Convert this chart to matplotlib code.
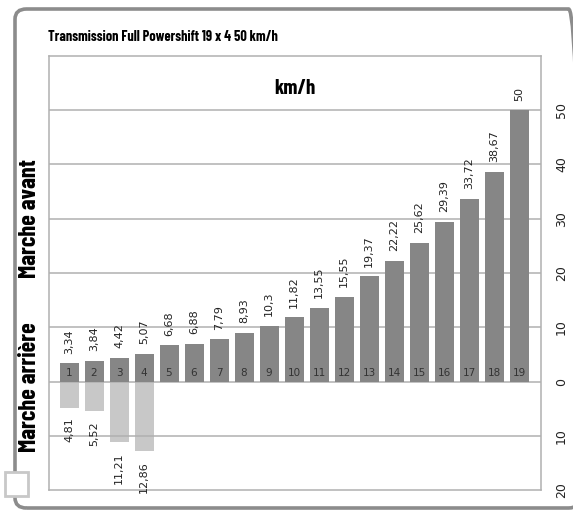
import numpy as np
import matplotlib
matplotlib.use("Agg")
import matplotlib.pyplot as plt
from matplotlib.patches import FancyBboxPatch, Rectangle

# data
gears = list(range(1, 20))
forward = [3.34, 3.84, 4.42, 5.07, 6.68, 6.88, 7.79, 8.93, 10.3, 11.82,
           13.55, 15.55, 19.37, 22.22, 25.62, 29.39, 33.72, 38.67, 50]
rev_gears = [1, 2, 3, 4]
reverse = [4.81, 5.52, 11.21, 12.86]
yticks = [-20, -10, 0, 10, 20, 30, 40, 50]

title = "Transmission Full Powershift 19 x 4 50 km/h"
narrow = ["Barlow Condensed", "DejaVu Sans"]


def fmt(v):
    s = ("%.2f" % v).rstrip("0").rstrip(".")
    return s.replace(".", ",")


W, H = 573, 511
fig = plt.figure(figsize=(W / 100, H / 100), dpi=100)

# outer rounded frame
frame = FancyBboxPatch((15 / W, 3 / H), 565 / W, 499 / H,
                       boxstyle="round,pad=0,rounding_size=0.02",
                       transform=fig.transFigure, fill=False,
                       edgecolor="#8c8c8c", linewidth=2.6)
fig.patches.append(frame)

ax = fig.add_axes([49 / W, 1 - 490 / H, 492 / W, 434 / H])
ax.set_xlim(0.2, 19.88)
ax.set_ylim(-20, 60)

for y in [-10, 0, 10, 20, 30, 40, 50]:
    ax.axhline(y, color="#b0b0b0", lw=1.1, zorder=2)

ax.bar(rev_gears, [-v for v in reverse], width=0.76, color="#c8c8c8", zorder=1)
ax.bar(gears, forward, width=0.76, color="#868686", zorder=3)

for g, v in zip(gears, forward):
    ax.annotate(fmt(v), (g, v), xytext=(0, 7), textcoords="offset points",
                rotation=90, ha="center", va="bottom", fontsize=8, color="#222222")
    ax.text(g, 0.6, str(g), ha="center", va="bottom", fontsize=7.5,
            color="#333333", zorder=4)

for g, v in zip(rev_gears, reverse):
    ax.annotate(fmt(v), (g, -v), xytext=(0, -7), textcoords="offset points",
                rotation=90, ha="center", va="top", fontsize=8, color="#222222")

ax.set_xticks([])
ax.yaxis.tick_right()
ax.set_yticks(yticks)
ax.set_yticklabels([str(abs(t)) for t in yticks], rotation=90, va="center",
                   fontsize=9, color="#222222")
ax.tick_params(axis="y", length=0, pad=10)
for s in ax.spines.values():
    s.set_color("#b0b0b0")
    s.set_linewidth(1.1)

ax.text(0.5, 0.925, "km/h", transform=ax.transAxes, ha="center", va="center",
        fontsize=15, fontweight="bold", family=narrow)

fig.text(48 / W, 1 - 37 / H, title, ha="left", va="center", fontsize=10.3,
         fontweight="bold", family=narrow)
fig.text(30 / W, 1 - 219 / H, "Marche avant", rotation=90, ha="center",
         va="center", fontsize=17.5, fontweight="bold", family=narrow)
fig.text(30 / W, 1 - 387 / H, "Marche arrière", rotation=90, ha="center",
         va="center", fontsize=17.5, fontweight="bold", family=narrow)

# small square in the lower left corner
fig.patches.append(Rectangle((5 / W, 1 - 496 / H), 23 / W, 24 / H,
                             transform=fig.transFigure, facecolor="white",
                             edgecolor="#c8c8c8", linewidth=2))

fig.savefig("out.png", dpi=100)
